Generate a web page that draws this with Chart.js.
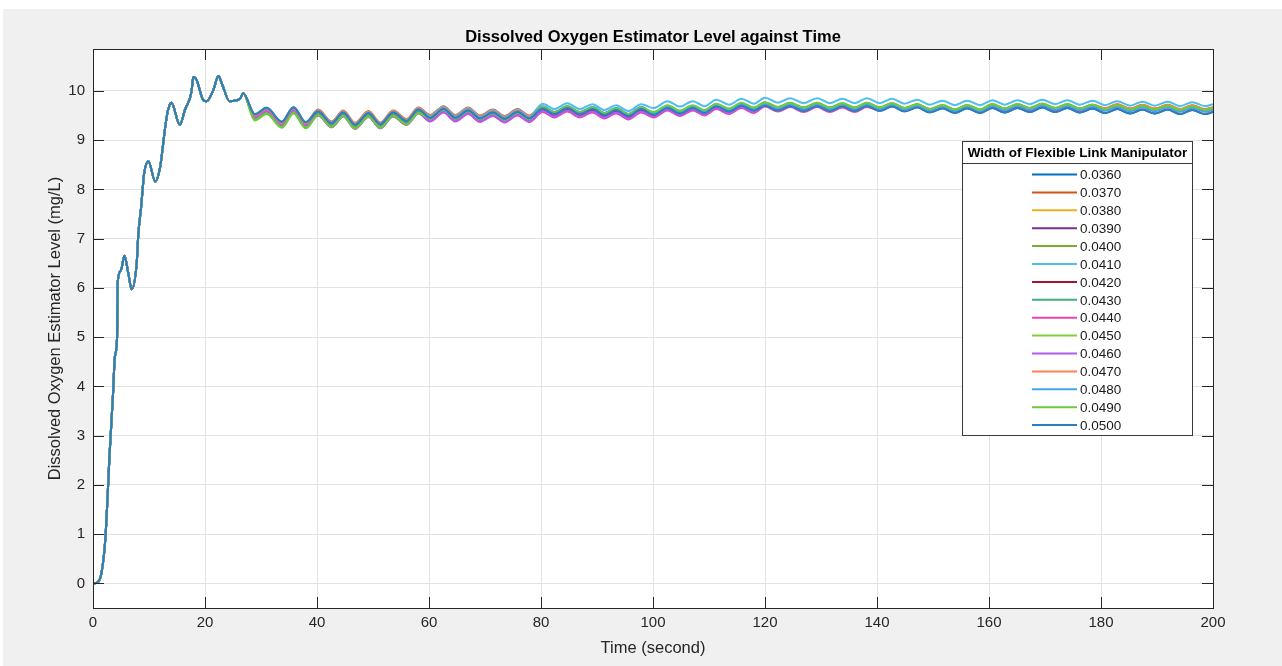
<!DOCTYPE html>
<html>
<head>
<meta charset="utf-8">
<title>Dissolved Oxygen Estimator Level against Time</title>
<script src="https://cdn.jsdelivr.net/npm/chart.js@4.4.1/dist/chart.umd.min.js"></script>
<style>
  body { margin: 0; background: #ffffff; }
  #wrap { position: relative; width: 1282px; height: 666px; }
</style>
</head>
<body>
<div id="wrap"><canvas id="doChart"></canvas></div>
<script>
// axis ticks
const timeTicks = [0, 20, 40, 60, 80, 100, 120, 140, 160, 180, 200];
const levelTicks = [0, 1, 2, 3, 4, 5, 6, 7, 8, 9, 10];

// legend entries (width of flexible link manipulator)
const widthLabels = ['0.0360', '0.0370', '0.0380', '0.0390', '0.0400', '0.0410', '0.0420', '0.0430',
  '0.0440', '0.0450', '0.0460', '0.0470', '0.0480', '0.0490', '0.0500'];
const lineColors = ['#0072BD', '#D95319', '#EDB120', '#7E2F8E', '#77AC30', '#4DBEEE', '#A2142F', '#3CB07C',
  '#F040B0', '#80D040', '#B05CF0', '#FF8050', '#3EA8F0', '#6CCB3C', '#2E7DBE'];

// start-up part, same for every width
const riseTime = [0, 0.8, 1.5, 2.2, 3.0, 3.6, 3.9, 4.3, 4.4, 5.0, 5.6, 6.3, 6.9, 7.8, 8.1, 8.6, 8.9, 9.1, 9.9,
  11.1, 12.0, 12.9, 13.4, 14.0, 15.5, 16.4, 17.6, 17.9, 18.5, 19.7, 20.3, 21.5, 22.4, 23.0, 24.4, 26.2, 26.8];
const riseLevel = [0, 0.02, 0.2, 0.9, 2.7, 3.9, 4.6, 5.0, 6.1, 6.36, 6.65, 6.3, 5.97, 6.5, 7.1, 7.65, 8.05, 8.3, 8.57,
  8.16, 8.46, 9.27, 9.61, 9.76, 9.31, 9.61, 9.99, 10.28, 10.22, 9.81, 9.79, 10.02, 10.30, 10.15, 9.79, 9.83, 9.95];

// oscillating part: peaks and troughs of the middle of the bundle
const waveTime = [28.9, 31.0, 33.7, 35.8, 38.0, 40.2, 42.6, 44.7, 46.8, 49.2, 51.3, 53.6, 56.0, 58.1, 60.2, 62.6,
  64.7, 67.0, 69.1, 71.4, 73.5, 75.8, 77.9, 80.3, 82.4, 84.7, 86.9, 89.2, 91.3, 93.4, 95.6, 97.9, 100.1, 102.6,
  104.8, 107.1, 109.2, 111.3, 113.6, 115.8, 118.0, 120.0, 122.3, 124.5, 126.9, 129.3, 131.6, 133.8, 136.0, 138.2,
  140.5, 142.7, 144.9, 147.2, 149.4, 151.7, 153.9, 156.1, 158.4, 160.6, 162.8, 165.1, 167.3, 169.5, 171.8, 174.0,
  176.2, 178.5, 180.7, 182.9, 185.2, 187.4, 189.6, 191.9, 194.1, 196.3, 198.6, 200];
const waveLevel = [9.48, 9.61, 9.33, 9.62, 9.32, 9.56, 9.32, 9.54, 9.29, 9.53, 9.30, 9.54, 9.37, 9.60, 9.45, 9.63,
  9.45, 9.60, 9.44, 9.56, 9.43, 9.57, 9.44, 9.65, 9.54, 9.66, 9.54, 9.64, 9.52, 9.62, 9.50, 9.64, 9.53, 9.67,
  9.56, 9.67, 9.57, 9.70, 9.60, 9.72, 9.62, 9.73, 9.63, 9.72, 9.62, 9.72, 9.62, 9.71, 9.62, 9.72,
  9.63, 9.72, 9.62, 9.70, 9.60, 9.68, 9.59, 9.68, 9.59, 9.70, 9.61, 9.70, 9.62, 9.71, 9.62, 9.70,
  9.61, 9.69, 9.61, 9.69, 9.60, 9.68, 9.60, 9.68, 9.59, 9.67, 9.59, 9.63];

// how far each width sits from the middle of the bundle, per 20 s stretch
const segmentStart = [20, 40, 60, 80, 100, 120, 140, 160, 180];
const segmentOffset = [
  [0.02, 0.01, 0.00, 0.00, -0.01, -0.02, -0.03, -0.05, -0.06],
  [0.04, 0.06, 0.06, 0.03, 0.02, 0.02, 0.02, 0.03, 0.04],
  [0.03, 0.04, 0.03, 0.02, 0.02, 0.02, 0.03, 0.03, 0.03],
  [0.00, -0.02, -0.03, -0.04, -0.03, -0.02, -0.02, -0.01, 0.00],
  [-0.05, -0.03, 0.00, 0.01, 0.03, 0.04, 0.03, 0.02, 0.01],
  [0.03, 0.04, 0.05, 0.09, 0.12, 0.13, 0.12, 0.11, 0.10],
  [0.03, 0.02, 0.02, 0.00, 0.00, 0.01, 0.00, 0.00, 0.00],
  [0.00, 0.00, 0.01, 0.02, 0.02, 0.02, 0.02, 0.02, 0.01],
  [0.00, -0.05, -0.07, -0.08, -0.07, -0.05, -0.03, -0.02, -0.01],
  [-0.08, -0.06, -0.02, 0.00, 0.02, 0.03, 0.03, 0.03, 0.02],
  [-0.02, -0.06, -0.06, -0.06, -0.05, -0.03, -0.02, -0.01, 0.00],
  [0.02, 0.05, 0.04, 0.02, 0.01, 0.01, 0.02, 0.02, 0.03],
  [0.05, 0.03, 0.02, 0.03, 0.01, 0.00, 0.00, 0.00, -0.01],
  [-0.07, -0.05, -0.01, 0.02, 0.04, 0.04, 0.03, 0.03, 0.02],
  [0.04, 0.02, 0.00, -0.01, -0.02, -0.03, -0.04, -0.05, -0.06]
];

function segmentIndex(t) {
  let k = 0;
  for (let i = 0; i < segmentStart.length; i++) {
    if (t >= segmentStart[i]) k = i;
  }
  return k;
}

function buildSeries(s) {
  const pts = riseTime.map((t, i) => ({ x: t, y: riseLevel[i] }));
  waveTime.forEach((t, i) => {
    pts.push({ x: t, y: waveLevel[i] + segmentOffset[s][segmentIndex(t)] });
  });
  return pts;
}

const datasets = widthLabels.map((label, s) => ({
  label: label,
  data: buildSeries(s),
  borderColor: lineColors[s],
  borderWidth: 2,
  pointRadius: 0,
  fill: false,
  cubicInterpolationMode: 'monotone',
  order: widthLabels.length - 1 - s   // last width drawn on top, like MATLAB
}));

const axisColor = '#262626';
const fontFamily = '"Liberation Sans", Arial, Helvetica, sans-serif';

// grey figure background, white axes
const figureBackground = {
  id: 'figureBackground',
  beforeDraw(chart) {
    const { ctx, chartArea: a } = chart;
    ctx.save();
    ctx.fillStyle = '#f0f0f0';
    ctx.fillRect(3, 9, chart.width - 3, chart.height - 9);
    ctx.fillStyle = '#ffffff';
    ctx.fillRect(a.left, a.top, a.right - a.left, a.bottom - a.top);
    ctx.restore();
  }
};

// box round the axes with inward tick marks on all four sides
const boxAndTicks = {
  id: 'boxAndTicks',
  afterDatasetsDraw(chart) {
    const { ctx, chartArea: a, scales } = chart;
    const len = 11;
    ctx.save();
    ctx.strokeStyle = axisColor;
    ctx.lineWidth = 1;
    ctx.strokeRect(Math.round(a.left) + 0.5, Math.round(a.top) + 0.5,
      Math.round(a.right - a.left), Math.round(a.bottom - a.top));
    ctx.beginPath();
    timeTicks.forEach(v => {
      const x = Math.round(scales.x.getPixelForValue(v)) + 0.5;
      ctx.moveTo(x, a.bottom); ctx.lineTo(x, a.bottom - len);
      ctx.moveTo(x, a.top); ctx.lineTo(x, a.top + len);
    });
    levelTicks.forEach(v => {
      const y = Math.round(scales.y.getPixelForValue(v)) + 0.5;
      ctx.moveTo(a.left, y); ctx.lineTo(a.left + len, y);
      ctx.moveTo(a.right, y); ctx.lineTo(a.right - len, y);
    });
    ctx.stroke();
    ctx.restore();
  }
};

// MATLAB style legend box with a title row
const widthLegend = {
  id: 'widthLegend',
  afterDraw(chart) {
    const { ctx } = chart;
    const bx = 962.5, by = 141.5, bw = 230, bh = 294;
    ctx.save();
    ctx.fillStyle = '#ffffff';
    ctx.fillRect(bx, by, bw, bh);
    ctx.strokeStyle = '#3a3a3a';
    ctx.lineWidth = 1;
    ctx.strokeRect(bx, by, bw, bh);
    ctx.beginPath();
    ctx.moveTo(bx, 163.5); ctx.lineTo(bx + bw, 163.5);
    ctx.stroke();

    ctx.fillStyle = '#000000';
    ctx.textAlign = 'center';
    ctx.textBaseline = 'middle';
    ctx.font = 'bold 13.5px ' + fontFamily;
    ctx.fillText('Width of Flexible Link Manipulator', bx + bw / 2, 153);

    ctx.textAlign = 'left';
    ctx.font = '13.5px ' + fontFamily;
    chart.data.datasets.forEach((ds, i) => {
      const y = 174.5 + i * 17.9;
      ctx.strokeStyle = ds.borderColor;
      ctx.lineWidth = 2;
      ctx.beginPath();
      ctx.moveTo(1032, y); ctx.lineTo(1077, y);
      ctx.stroke();
      ctx.fillStyle = '#1a1a1a';
      ctx.fillText(ds.label, 1080, y + 1);
    });
    ctx.restore();
  }
};

new Chart(document.getElementById('doChart'), {
  type: 'line',
  data: { datasets: datasets },
  options: {
    responsive: true,
    maintainAspectRatio: false,
    animation: false,
    layout: { padding: { left: 0, right: 69, top: 0, bottom: 0 } },
    plugins: {
      legend: { display: false },
      tooltip: { enabled: false },
      title: {
        display: true,
        fullSize: false,
        text: 'Dissolved Oxygen Estimator Level against Time',
        color: '#000000',
        font: { family: fontFamily, size: 16.5, weight: 'bold' },
        padding: { top: 28, bottom: 1.2 }
      }
    },
    scales: {
      x: {
        type: 'linear',
        min: 0,
        max: 200,
        afterBuildTicks: axis => { axis.ticks = timeTicks.map(v => ({ value: v })); },
        afterFit: scale => { scale.height = 58; },
        grid: { color: '#e3e3e3', drawTicks: false },
        border: { display: false },
        ticks: {
          color: axisColor,
          padding: 6,
          maxRotation: 0,
          font: { family: fontFamily, size: 15 }
        },
        title: {
          display: true,
          text: 'Time (second)',
          color: axisColor,
          font: { family: fontFamily, size: 16.5 },
          padding: { top: 0, bottom: 8 }
        }
      },
      y: {
        type: 'linear',
        min: -0.5,
        max: 10.85,
        afterBuildTicks: axis => { axis.ticks = levelTicks.map(v => ({ value: v })); },
        afterFit: scale => { scale.width = 93; },
        grid: { color: '#e3e3e3', drawTicks: false },
        border: { display: false },
        ticks: {
          color: axisColor,
          padding: 8,
          font: { family: fontFamily, size: 15 }
        },
        title: {
          display: true,
          text: 'Dissolved Oxygen Estimator Level (mg/L)',
          color: axisColor,
          font: { family: fontFamily, size: 16.5 },
          padding: { top: 46, bottom: 0 }
        }
      }
    }
  },
  plugins: [figureBackground, boxAndTicks, widthLegend]
});
</script>
</body>
</html>
